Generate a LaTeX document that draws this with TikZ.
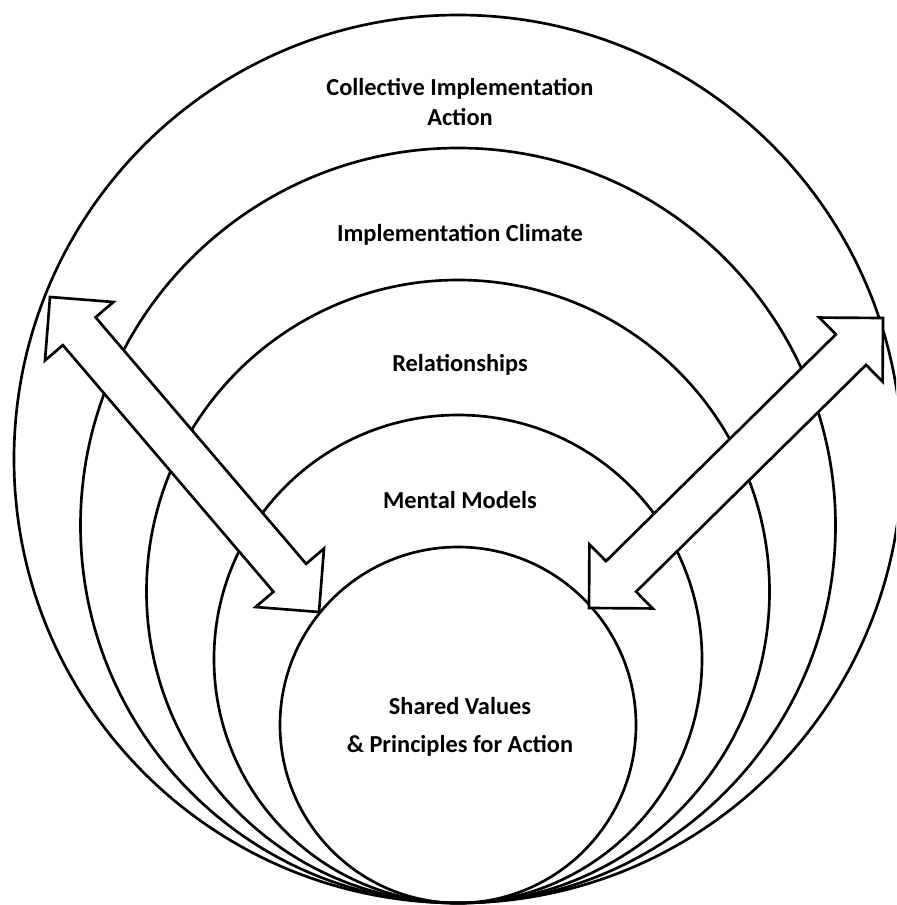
\documentclass[tikz,border=0pt]{standalone}
\usepackage{fontspec}
\setmainfont{Carlito}
\usetikzlibrary{calc}
\begin{document}
\begin{tikzpicture}[x=0.75pt,y=-0.75pt,
  ring/.style={draw=black,line width=2pt},
  blockarrow/.style={draw=black,fill=white,line width=2pt,line join=miter},
  lbl/.style={font=\fontsize{18.3}{21}\selectfont\bfseries,align=center,inner sep=0pt}]
\useasboundingbox (0,0) rectangle (896,905);
\clip (0,0) rectangle (896,905);
% nested circles, all tangent at the bottom
\coordinate (base) at (458,903);
\draw[ring] (458,459) circle[radius=444];
\draw[ring] (458,525.5) circle[radius=377.5];
\draw[ring] (458,591.5) circle[radius=311.5];
\draw[ring] (458,659) circle[radius=244];
\draw[ring] (458,725) circle[radius=178];
% double block arrows
\newcommand{\dblarrow}[2]{%
  \draw[blockarrow]
    (#1)
    -- ($($(#1)!33.75pt!(#2)$)!33.75pt!90:(#2)$)
    -- ($($(#1)!33.75pt!(#2)$)!16.1pt!90:(#2)$)
    -- ($($(#2)!33.75pt!(#1)$)!16.1pt!-90:(#1)$)
    -- ($($(#2)!33.75pt!(#1)$)!33.75pt!-90:(#1)$)
    -- (#2)
    -- ($($(#2)!33.75pt!(#1)$)!33.75pt!90:(#1)$)
    -- ($($(#2)!33.75pt!(#1)$)!16.1pt!90:(#1)$)
    -- ($($(#1)!33.75pt!(#2)$)!16.1pt!-90:(#2)$)
    -- ($($(#1)!33.75pt!(#2)$)!33.75pt!-90:(#2)$)
    -- cycle;}
\coordinate (la) at (50,297);
\coordinate (lb) at (319,612);
\coordinate (ra) at (883,318);
\coordinate (rb) at (589,608);
\dblarrow{la}{lb}
\dblarrow{ra}{rb}
% labels
\node[lbl] (c1) at (460,102) {Collective Implementation\\[1pt]Action};
\node[lbl] (c2) at (460,235) {Implementation Climate};
\node[lbl] (c3) at (460,365) {Relationships};
\node[lbl] (c4) at (460,500) {Mental Models};
\node[lbl] (c5) at (460,727) {Shared Values\\[7pt]\& Principles for Action};
\end{tikzpicture}
\end{document}
